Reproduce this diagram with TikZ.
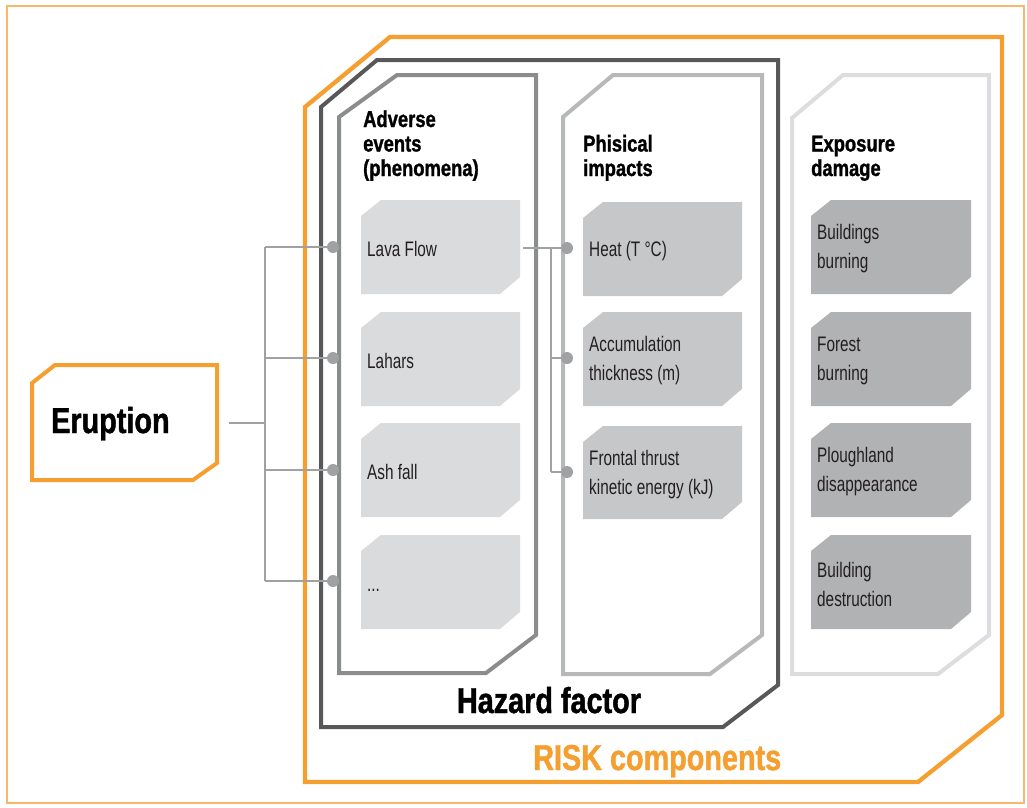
\documentclass[tikz,border=0pt]{standalone}
\usepackage{fontspec}
\setmainfont{Liberation Sans}[FakeStretch=0.73]
\newfontfamily\hfont{Liberation Sans}[UprightFont={* Bold}, FakeStretch=0.8, FakeBold=1.2]
\definecolor{riskor}{HTML}{F49F2F}
\definecolor{frameor}{HTML}{F9B76E}
\definecolor{hazgray}{HTML}{58585A}
\definecolor{colone}{HTML}{8B8C8E}
\definecolor{coltwo}{HTML}{B7B8BA}
\definecolor{colthree}{HTML}{DCDDDE}
\definecolor{fillone}{HTML}{DADBDC}
\definecolor{filltwo}{HTML}{C6C7C8}
\definecolor{fillthree}{HTML}{B1B2B3}
\definecolor{conngray}{HTML}{A0A1A3}
\definecolor{txtdark}{HTML}{231F20}
\tikzset{
  colborder/.style={line width=4pt, line join=miter},
  boxtext/.style={inner sep=0pt, align=left, text=txtdark, font=\fontsize{21}{29}\selectfont},
  headtext/.style={inner sep=0pt, align=left, text=black, font=\hfont\fontsize{23}{24.5}\selectfont},
  bigtext/.style={inner sep=0pt, font=\hfont\fontsize{36}{40}\selectfont},
  conn/.style={draw=conngray, line width=2.5pt},
  dotnode/.style={circle, fill=conngray, minimum size=12pt, inner sep=0pt}
}
\newcommand\chbox[7]{%
  \fill[#6] (#2+20,#3) -- (#2+#4,#3) -- (#2+#4,#3+#5-17) -- (#2+#4-20,#3+#5) -- (#2,#3+#5) -- (#2,#3+16) -- cycle;
  \node[boxtext, anchor=west] (#1) at (#2+6,#3+#5/2+2) {#7};}
\begin{document}
\begin{tikzpicture}[x=1pt,y=-1pt]
\useasboundingbox (0,0) rectangle (1027,807);
% outer frame
\draw[frameor, line width=1.5pt] (7,6) rectangle (1024,803);
% RISK components
\draw[riskor, colborder, line width=4.3pt] (390,37) -- (1002,37) -- (1002,715) -- (918,782) -- (305,782) -- (305,107) -- cycle;
% Hazard factor
\draw[hazgray, colborder] (377,60) -- (778,60) -- (778,685) -- (723,727) -- (321,727) -- (321,107) -- cycle;
% columns
\draw[colone, colborder] (397,75) -- (536,75) -- (536,635) -- (486,673) -- (339,673) -- (339,117) -- cycle;
\draw[coltwo, colborder] (613,75) -- (762,75) -- (762,635) -- (710,674) -- (563,674) -- (563,117) -- cycle;
\draw[colthree, colborder] (843,75) -- (989,75) -- (989,635) -- (938,674) -- (792,674) -- (792,118) -- cycle;
% Eruption box
\draw[riskor, colborder] (55,365) -- (217,365) -- (217,463) -- (193,480) -- (32,480) -- (32,383) -- cycle;
\node[bigtext, anchor=base west] (erupt) at (51,433) {Eruption};
% headings (anchor at last baseline)
\node[headtext, anchor=base west] (hadv) at (363,176) {Adverse\\events\\(phenomena)};
\node[headtext, anchor=base west] (hphy) at (583,176) {Phisical\\impacts};
\node[headtext, anchor=base west] (hexp) at (811,176) {Exposure\\damage};
\node[bigtext, anchor=base] (haz) at (549,713) {Hazard factor};
\node[bigtext, anchor=base west, text=riskor] (risk) at (533,770) {RISK components};
% column 1 boxes
\chbox{lava}{361}{200}{159}{94}{fillone}{Lava Flow}
\chbox{lahars}{361}{312}{159}{94}{fillone}{Lahars}
\chbox{ash}{361}{423}{159}{94}{fillone}{Ash fall}
\chbox{more}{361}{535}{159}{94}{fillone}{\vphantom{L}...}
% column 2 boxes
\chbox{heat}{583}{202}{159}{94}{filltwo}{Heat (T °C)}
\chbox{accum}{583}{312}{159}{94}{filltwo}{Accumulation\\thickness (m)}
\chbox{front}{583}{426}{159}{93}{filltwo}{Frontal thrust\\kinetic energy (kJ)}
% column 3 boxes
\chbox{bburn}{811}{200}{160}{94}{fillthree}{Buildings\\burning}
\chbox{fburn}{811}{312}{160}{94}{fillthree}{Forest\\burning}
\chbox{plough}{811}{423}{160}{94}{fillthree}{Ploughland\\disappearance}
\chbox{bdest}{811}{535}{160}{94}{fillthree}{Building\\destruction}
% connectors left
\coordinate (eo) at (229,423);
\coordinate (tr) at (265,423);
\node[dotnode] (d1) at (333,247) {};
\node[dotnode] (d2) at (333,358) {};
\node[dotnode] (d3) at (333,470) {};
\node[dotnode] (d4) at (333,581) {};
\draw[conn] (eo) -- (tr);
\draw[conn] (tr |- d1) -- (tr |- d4);
\foreach \d in {d1,d2,d3,d4} \draw[conn] (tr |- \d) -- (\d.center);
% connectors right
\coordinate (lo) at (523,248);
\coordinate (br) at (551,248);
\node[dotnode] (d5) at (567,248) {};
\node[dotnode] (d6) at (567,358) {};
\node[dotnode] (d7) at (567,472) {};
\draw[conn] (lo) -- (d5.center);
\draw[conn] (br) -- (br |- d7);
\foreach \d in {d6,d7} \draw[conn] (br |- \d) -- (\d.center);
\end{tikzpicture}
\end{document}
